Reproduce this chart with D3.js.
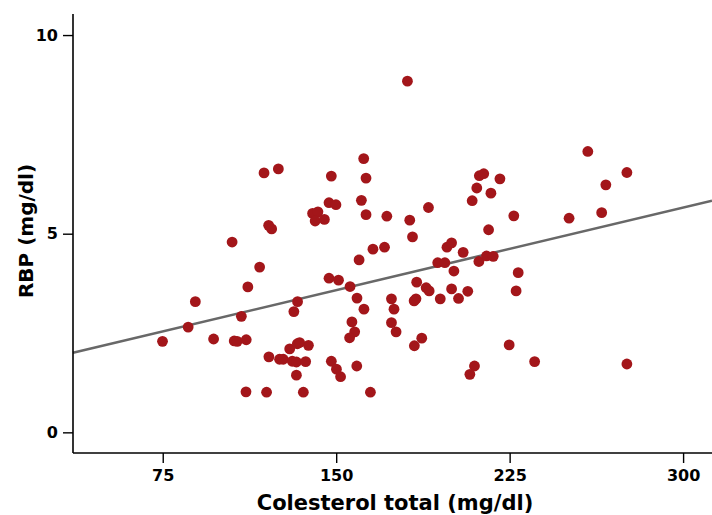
<!DOCTYPE html>
<html>
<head>
<meta charset="utf-8">
<script src="https://cdn.jsdelivr.net/npm/d3@7"></script>
<style>
  body { margin: 0; background: #fff; }
  text { font-family: "DejaVu Sans", Verdana, sans-serif; font-weight: bold; }
</style>
</head>
<body>
<script>
// colesterol total (mg/dl) vs RBP (mg/dl)
const colesterol = [
  118.8, 125.0, 139.8, 142.1, 140.9, 120.8, 122.1, 105.0, 180.8, 161.9,
  147.9, 162.9, 211.9, 213.8, 210.8, 208.8, 160.9, 146.9, 149.9, 189.9,
  144.9, 162.9, 171.9, 181.8, 183.0, 165.9, 170.9, 159.9, 197.9, 199.9,
  204.9, 193.9, 197.0, 258.8, 275.7, 266.6, 264.8, 250.7, 220.8, 216.9,
  226.8, 215.9, 211.7, 215.0, 217.9, 200.9, 228.7, 199.9, 206.9, 202.9,
  195.0, 227.8, 116.9, 111.8, 89.1, 133.3, 131.7, 86.0, 109.0, 74.9,
  97.0, 105.9, 107.2, 111.1, 129.9, 133.2, 134.2, 138.0, 120.9, 125.5,
  127.1, 131.0, 132.8, 136.8, 132.8, 111.0, 119.9, 135.8, 146.9, 151.0,
  156.0, 184.8, 188.9, 190.2, 184.5, 183.7, 173.9, 159.0, 175.0, 162.0,
  156.8, 173.9, 158.0, 155.8, 175.9, 187.0, 183.8, 147.9, 150.1, 151.9,
  158.9, 209.8, 207.8, 164.8, 224.8, 235.8, 275.7
];
const rbp = [
  6.53, 6.63, 5.51, 5.55, 5.32, 5.21, 5.12, 4.79, 8.84, 6.89,
  6.45, 6.40, 6.46, 6.51, 6.15, 5.83, 5.84, 5.78, 5.73, 5.66,
  5.36, 5.48, 5.44, 5.34, 4.92, 4.61, 4.66, 4.34, 4.66, 4.77,
  4.53, 4.27, 4.27, 7.07, 6.54, 6.23, 5.53, 5.39, 6.38, 6.02,
  5.45, 5.10, 4.30, 4.44, 4.43, 4.06, 4.02, 3.61, 3.55, 3.37,
  3.36, 3.56, 4.16, 3.66, 3.29, 3.29, 3.04, 2.65, 2.92, 2.29,
  2.35, 2.30, 2.29, 2.33, 2.10, 2.23, 2.26, 2.19, 1.90, 1.84,
  1.84, 1.79, 1.77, 1.78, 1.44, 1.02, 1.01, 1.01, 3.88, 3.83,
  3.67, 3.78, 3.64, 3.56, 3.36, 3.31, 3.36, 3.38, 3.10, 3.10,
  2.78, 2.76, 2.53, 2.38, 2.53, 2.37, 2.18, 1.79, 1.59, 1.40,
  1.67, 1.67, 1.46, 1.01, 2.20, 1.78, 1.72
];
const xTicks = [75, 150, 225, 300];
const yTicks = [0, 5, 10];
// fitted line: rbp = a + b * colesterol
const fitIntercept = 1.50;
const fitSlope = 0.01386;

const W = 712, H = 515;
const margin = {left: 73, right: 0, top: 14, bottom: 62};

const svg = d3.select("body").append("svg")
  .attr("width", W)
  .attr("height", H);

const x = d3.scaleLinear()
  .domain([36.2, 312.5])
  .range([margin.left, W - margin.right]);
const y = d3.scaleLinear()
  .domain([-0.52, 10.53])
  .range([H - margin.bottom, margin.top]);

const pts = colesterol.map((c, i) => ({c: c, r: rbp[i]}));

// fit line under the dots
const xd = x.domain();
svg.append("line")
  .attr("x1", x(xd[0]))
  .attr("y1", y(fitIntercept + fitSlope * xd[0]))
  .attr("x2", x(xd[1]))
  .attr("y2", y(fitIntercept + fitSlope * xd[1]))
  .attr("stroke", "#686868")
  .attr("stroke-width", 2.6);

svg.append("g")
  .selectAll("circle")
  .data(pts)
  .enter().append("circle")
  .attr("cx", d => x(d.c))
  .attr("cy", d => y(d.r))
  .attr("r", 5.4)
  .attr("fill", "#a3161a");

const xAxis = svg.append("g")
  .attr("transform", "translate(0," + (H - margin.bottom) + ")")
  .call(d3.axisBottom(x).tickValues(xTicks).tickSize(10).tickPadding(7));
const yAxis = svg.append("g")
  .attr("transform", "translate(" + margin.left + ",0)")
  .call(d3.axisLeft(y).tickValues(yTicks).tickSize(10).tickPadding(5));

[xAxis, yAxis].forEach(g => {
  g.select(".domain").attr("stroke", "#000").attr("stroke-width", 1.6);
  g.selectAll(".tick line").attr("stroke", "#000").attr("stroke-width", 1.4);
  g.selectAll(".tick text")
    .attr("fill", "#000")
    .style("font-family", "'DejaVu Sans', Verdana, sans-serif")
    .style("font-weight", "bold")
    .style("font-size", "16px");
});
// axis lines without the end caps
xAxis.select(".domain").attr("d", "M" + margin.left + ",0H" + W);
yAxis.select(".domain").attr("d", "M0," + margin.top + "V" + (H - margin.bottom));

svg.append("text")
  .attr("x", 395)
  .attr("y", 510)
  .attr("text-anchor", "middle")
  .style("font-size", "21px")
  .text("Colesterol total (mg/dl)");

svg.append("text")
  .attr("transform", "translate(33," + 231 + ") rotate(-90)")
  .attr("text-anchor", "middle")
  .style("font-size", "20px")
  .text("RBP (mg/dl)");
</script>
</body>
</html>
